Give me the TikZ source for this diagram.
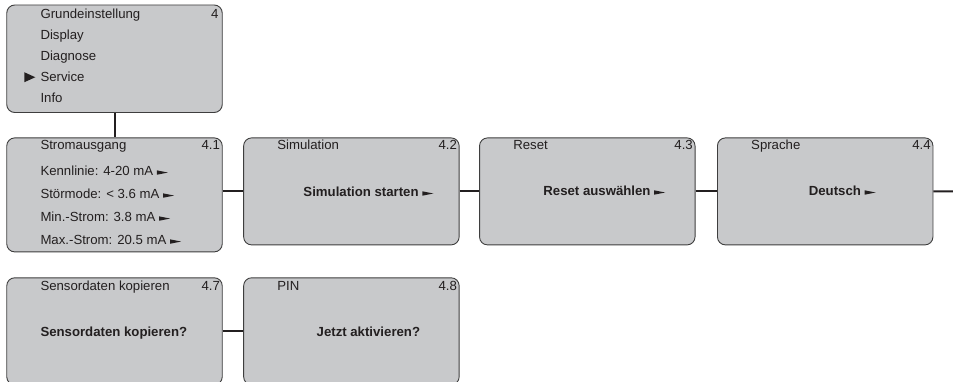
\documentclass[tikz,border=0pt]{standalone}
\usepackage{fontspec}
\setmainfont{Liberation Sans}
\usetikzlibrary{positioning}
\definecolor{panelgray}{RGB}{200,201,203}
\definecolor{framegray}{RGB}{62,62,62}
\definecolor{textdark}{RGB}{35,31,32}

% small pointer after a value
\newcommand{\ptr}{\tikz[baseline=0pt,x=1pt,y=1pt]\fill[textdark] (0,0.7) -- (11,2.9) -- (0,5.1) -- cycle;}

\begin{document}
\begin{tikzpicture}[x=1pt, y=-1pt,
    node distance=21pt,
    panel/.style={draw=framegray, line width=0.9pt, rounded corners=8pt,
                  fill=panelgray, minimum width=215.5pt, minimum height=107pt,
                  inner sep=0pt},
    hdr/.style={anchor=base west, inner sep=0pt, text=textdark,
                font=\fontsize{13.2}{15}\selectfont},
    num/.style={anchor=base east, inner sep=0pt, text=textdark,
                font=\fontsize{13.2}{15}\selectfont},
    msg/.style={anchor=base, inner sep=0pt, text=textdark,
                font=\fontsize{13.2}{15}\selectfont\bfseries},
    link/.style={line width=2pt, draw=textdark}
]
    \useasboundingbox (0,0) rectangle (953,382);

    % main menu
    \node[panel, minimum height=107.5pt] (menu) at (114.5,58.75) {};
    \node[hdr] (menuhdr) at ([shift={(34pt,-14pt)}]menu.north west) {Grundeinstellung};
    \node[num] (menunum) at ([shift={(-4pt,-14pt)}]menu.north east) {4};
    \foreach \t [count=\i] in {Display, Diagnose, Service, Info}
        \node[hdr] (m\i) at ([shift={(34pt,-14pt-\i*20.9pt)}]menu.north west) {\t};
    \fill[textdark] ([shift={(-5pt,4pt)}]m3.base west) -- ([shift={(-16pt,9pt)}]m3.base west)
        -- ([shift={(-16pt,-1pt)}]m3.base west) -- cycle;

    % row of sub menus
    \node[panel, minimum height=114pt, below=24.5pt of menu] (strom) {};
    \node[panel, right=20.5pt of strom.north east, anchor=north west] (sim) {};
    \node[panel, right=19.5pt of sim] (reset) {};
    \node[panel, right=21.5pt of reset] (sprache) {};

    \node[hdr] (stromhdr) at ([shift={(34pt,-12pt)}]strom.north west) {Stromausgang};
    \node[num] (stromnum) at ([shift={(-2.5pt,-12pt)}]strom.north east) {4.1};
    \foreach \t [count=\i] in {Kennlinie: 4-20 mA \ptr, Störmode: < 3.6 mA \ptr,
                               Min.-Strom: 3.8 mA \ptr, Max.-Strom: 20.5 mA \ptr}
        \node[hdr] (s\i) at ([shift={(34pt,-15pt-\i*23pt)}]strom.north west) {\t};

    \node[hdr] (simhdr) at ([shift={(34pt,-12pt)}]sim.north west) {Simulation};
    \node[num] (simnum) at ([shift={(-2.5pt,-12pt)}]sim.north east) {4.2};
    \node[msg] (simmsg) at ([shift={(17pt,-5pt)}]sim.center) {Simulation starten \ptr};

    \node[hdr] (resethdr) at ([shift={(34pt,-12pt)}]reset.north west) {Reset};
    \node[num] (resetnum) at ([shift={(-2.5pt,-12pt)}]reset.north east) {4.3};
    \node[msg] (resetmsg) at ([shift={(17pt,-4pt)}]reset.center) {Reset auswählen \ptr};

    \node[hdr] (sprachehdr) at ([shift={(34pt,-12pt)}]sprache.north west) {Sprache};
    \node[num] (sprachenum) at ([shift={(-2.5pt,-12pt)}]sprache.north east) {4.4};
    \node[msg] (sprachemsg) at ([shift={(17pt,-4pt)}]sprache.center) {Deutsch \ptr};

    % bottom row
    \node[panel, below=25pt of strom.south, anchor=north] (kopie) {};
    \node[panel, right=20.5pt of kopie] (pin) {};

    \node[hdr] (kopiehdr) at ([shift={(34pt,-13pt)}]kopie.north west) {Sensordaten kopieren};
    \node[num] (kopienum) at ([shift={(-2.5pt,-13pt)}]kopie.north east) {4.7};
    \node[msg, anchor=base west] (kopiemsg) at ([shift={(34pt,-5pt)}]kopie.west) {Sensordaten kopieren?};

    \node[hdr] (pinhdr) at ([shift={(34pt,-13pt)}]pin.north west) {PIN};
    \node[num] (pinnum) at ([shift={(-2.5pt,-13pt)}]pin.north east) {4.8};
    \node[msg] (pinmsg) at ([shift={(17pt,-5pt)}]pin.center) {Jetzt aktivieren?};

    % connectors
    \coordinate (exit) at (953,191.5);
    \draw[link] (menu) -- (strom);
    \draw[link] (sim.west -| strom.east) -- (sim.west);
    \draw[link] (sim) -- (reset);
    \draw[link] (reset) -- (sprache);
    \draw[link] (sprache) -- (exit);
    \draw[link] (kopie) -- (pin);
\end{tikzpicture}
\end{document}
